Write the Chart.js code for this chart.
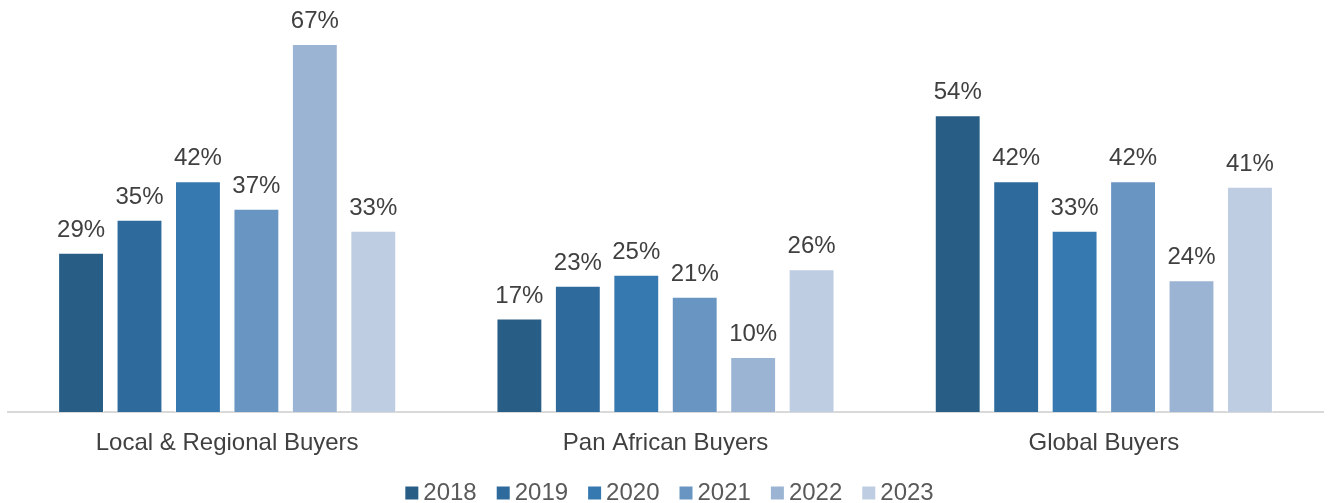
<!DOCTYPE html>
<html>
<head>
<meta charset="utf-8">
<script src="https://cdn.jsdelivr.net/npm/chart.js@4/dist/chart.umd.min.js"></script>
<style>
  html, body { margin: 0; padding: 0; background: #fff; }
  #wrap { width: 1328px; height: 503px; }
</style>
</head>
<body>
<div id="wrap"><canvas id="chart" width="1328" height="503"></canvas></div>
<script>
const categories = ['Local & Regional Buyers', 'Pan African Buyers', 'Global Buyers'];
const years = ['2018', '2019', '2020', '2021', '2022', '2023'];
const v2018 = [29, 17, 54];
const v2019 = [35, 23, 42];
const v2020 = [42, 25, 33];
const v2021 = [37, 21, 42];
const v2022 = [67, 10, 24];
const v2023 = [33, 26, 41];
const colors = ['#285D86', '#2E6A9C', '#3679B0', '#6895C2', '#9BB4D3', '#BECDE1'];

const series = [v2018, v2019, v2020, v2021, v2022, v2023];
const FONT = '"Liberation Sans", Arial, sans-serif';

// value labels above each bar
const barLabels = {
  id: 'barLabels',
  afterDatasetsDraw(chart) {
    const ctx = chart.ctx;
    ctx.save();
    ctx.font = '24px ' + FONT;
    ctx.fillStyle = '#404040';
    ctx.textAlign = 'center';
    ctx.textBaseline = 'alphabetic';
    chart.data.datasets.forEach((ds, i) => {
      chart.getDatasetMeta(i).data.forEach((bar, j) => {
        ctx.fillText(ds.data[j] + '%', bar.x, bar.y - 16);
      });
    });
    ctx.restore();
  }
};

// compact legend row: small square, tight gap, year label
const compactLegend = {
  id: 'compactLegend',
  afterDraw(chart) {
    const ctx = chart.ctx;
    const box = 13, gap = 5, spacing = 20, cy = 493;
    ctx.save();
    ctx.font = '24px ' + FONT;
    ctx.textBaseline = 'middle';
    const items = chart.data.datasets.map(ds => ({
      text: ds.label, color: ds.backgroundColor, w: ctx.measureText(ds.label).width
    }));
    const total = items.reduce((s, it) => s + box + gap + it.w, 0) + spacing * (items.length - 1);
    let x = (chart.chartArea.left + chart.chartArea.right) / 2 + 4 - total / 2;
    items.forEach(it => {
      ctx.fillStyle = it.color;
      ctx.fillRect(x, cy - box / 2, box, box);
      x += box + gap;
      ctx.fillStyle = '#595959';
      ctx.fillText(it.text, x, cy);
      x += it.w + spacing;
    });
    ctx.restore();
  }
};

new Chart(document.getElementById('chart').getContext('2d'), {
  type: 'bar',
  data: {
    labels: categories,
    datasets: years.map((y, i) => ({
      label: y,
      data: series[i],
      backgroundColor: colors[i],
      borderColor: 'rgba(255,255,255,0.6)',
      borderWidth: 1,
      categoryPercentage: 0.8,
      barPercentage: 0.785
    }))
  },
  options: {
    responsive: false,
    animation: false,
    layout: { padding: { left: 8, right: 5, top: 0, bottom: 31 } },
    scales: {
      x: {
        grid: { display: false },
        border: { display: true, color: '#D9D9D9', width: 2 },
        ticks: {
          color: '#404040',
          padding: 9,
          font: { family: FONT, size: 24 }
        },
        afterFit(scale) { scale.height = 60; }
      },
      y: { display: false, min: 0, max: 75 }
    },
    plugins: {
      legend: { display: false },
      tooltip: { enabled: false }
    }
  },
  plugins: [barLabels, compactLegend]
});
</script>
</body>
</html>
